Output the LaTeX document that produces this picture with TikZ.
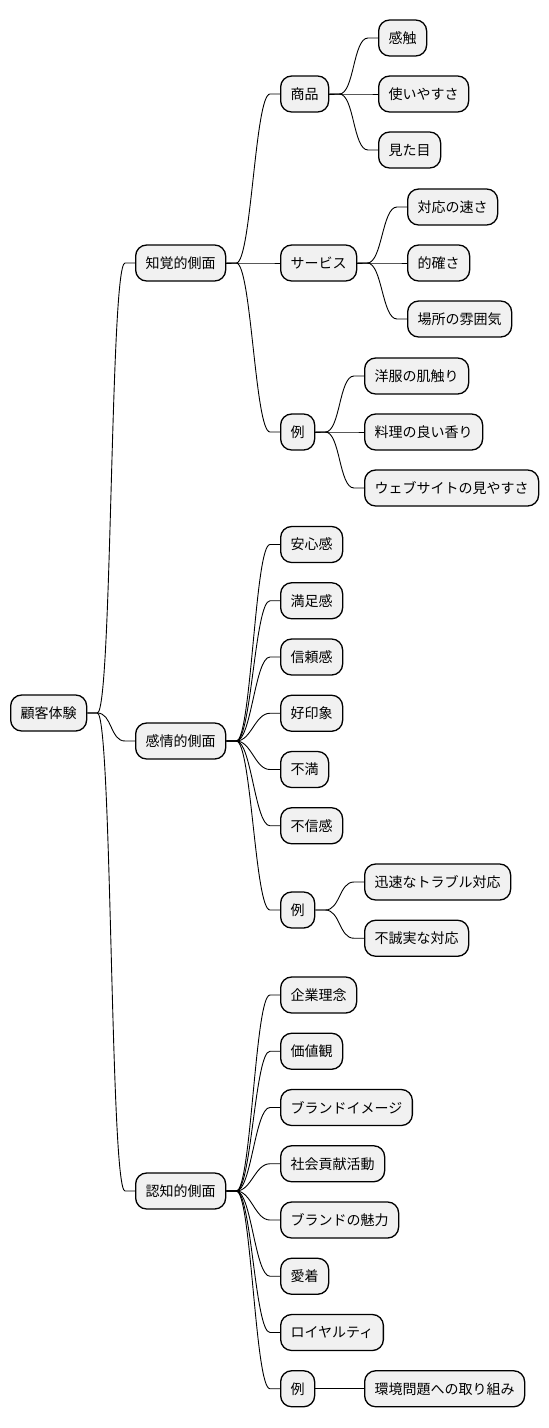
\documentclass[tikz,border=0pt]{standalone}
\usepackage{fontspec}
\setmainfont{Noto Sans CJK JP}
\usetikzlibrary{calc}
\definecolor{boxfill}{HTML}{F1F1F1}
\tikzset{
  mmbox/.style={draw=black, line width=1.3pt, fill=boxfill, rounded corners=11pt,
    minimum height=36pt, inner xsep=10pt, inner ysep=0pt, anchor=west,
    font=\fontsize{14pt}{16pt}\selectfont},
  link/.style={draw=black, line width=0.9pt}
}
\newcommand\mmlink[2]{\draw[link] (#1.east) -- ++(10,0) .. controls +(15,0) and ($(#2.west)+(-25,0)$) .. ($(#2.west)+(-10,0)$) -- (#2.west);}
\begin{document}
\begin{tikzpicture}[x=1pt,y=-1pt]
\useasboundingbox (0,0) rectangle (549,1428);
% root
\node[mmbox] (root) at (10,713) {顧客体験};
% level 1
\node[mmbox] (chikaku) at (135,263) {知覚的側面};
\node[mmbox] (kanjo) at (135,741) {感情的側面};
\node[mmbox] (ninchi) at (135,1191) {認知的側面};
% chikaku children
\node[mmbox] (shohin) at (280,94) {商品};
\node[mmbox] (service) at (280,263) {サービス};
\node[mmbox] (rei1) at (280,432) {例};
\node[mmbox] (a1) at (378,38) {感触};
\node[mmbox] (a2) at (378,94) {使いやすさ};
\node[mmbox] (a3) at (378,150) {見た目};
\node[mmbox] (b1) at (407,207) {対応の速さ};
\node[mmbox] (b2) at (407,263) {的確さ};
\node[mmbox] (b3) at (407,319) {場所の雰囲気};
\node[mmbox] (c1) at (364,376) {洋服の肌触り};
\node[mmbox] (c2) at (364,432) {料理の良い香り};
\node[mmbox] (c3) at (364,488) {ウェブサイトの見やすさ};
% kanjo children
\node[mmbox] (d1) at (280,544.5) {安心感};
\node[mmbox] (d2) at (280,600.75) {満足感};
\node[mmbox] (d3) at (280,657) {信頼感};
\node[mmbox] (d4) at (280,713.25) {好印象};
\node[mmbox] (d5) at (280,769.5) {不満};
\node[mmbox] (d6) at (280,825.75) {不信感};
\node[mmbox] (rei2) at (280,910) {例};
\node[mmbox] (e1) at (364,882) {迅速なトラブル対応};
\node[mmbox] (e2) at (364,938.25) {不誠実な対応};
% ninchi children
\node[mmbox] (f1) at (280,995) {企業理念};
\node[mmbox] (f2) at (280,1051.25) {価値観};
\node[mmbox] (f3) at (280,1107.5) {ブランドイメージ};
\node[mmbox] (f4) at (280,1163.75) {社会貢献活動};
\node[mmbox] (f5) at (280,1220) {ブランドの魅力};
\node[mmbox] (f6) at (280,1276.25) {愛着};
\node[mmbox] (f7) at (280,1332.5) {ロイヤルティ};
\node[mmbox] (rei3) at (280,1388.75) {例};
\node[mmbox] (g1) at (364,1388.75) {環境問題への取り組み};
% links
\mmlink{root}{chikaku}
\mmlink{root}{kanjo}
\mmlink{root}{ninchi}
\mmlink{chikaku}{shohin}
\mmlink{chikaku}{service}
\mmlink{chikaku}{rei1}
\mmlink{shohin}{a1}
\mmlink{shohin}{a2}
\mmlink{shohin}{a3}
\mmlink{service}{b1}
\mmlink{service}{b2}
\mmlink{service}{b3}
\mmlink{rei1}{c1}
\mmlink{rei1}{c2}
\mmlink{rei1}{c3}
\mmlink{kanjo}{d1}
\mmlink{kanjo}{d2}
\mmlink{kanjo}{d3}
\mmlink{kanjo}{d4}
\mmlink{kanjo}{d5}
\mmlink{kanjo}{d6}
\mmlink{kanjo}{rei2}
\mmlink{rei2}{e1}
\mmlink{rei2}{e2}
\mmlink{ninchi}{f1}
\mmlink{ninchi}{f2}
\mmlink{ninchi}{f3}
\mmlink{ninchi}{f4}
\mmlink{ninchi}{f5}
\mmlink{ninchi}{f6}
\mmlink{ninchi}{f7}
\mmlink{ninchi}{rei3}
\mmlink{rei3}{g1}
\end{tikzpicture}
\end{document}
